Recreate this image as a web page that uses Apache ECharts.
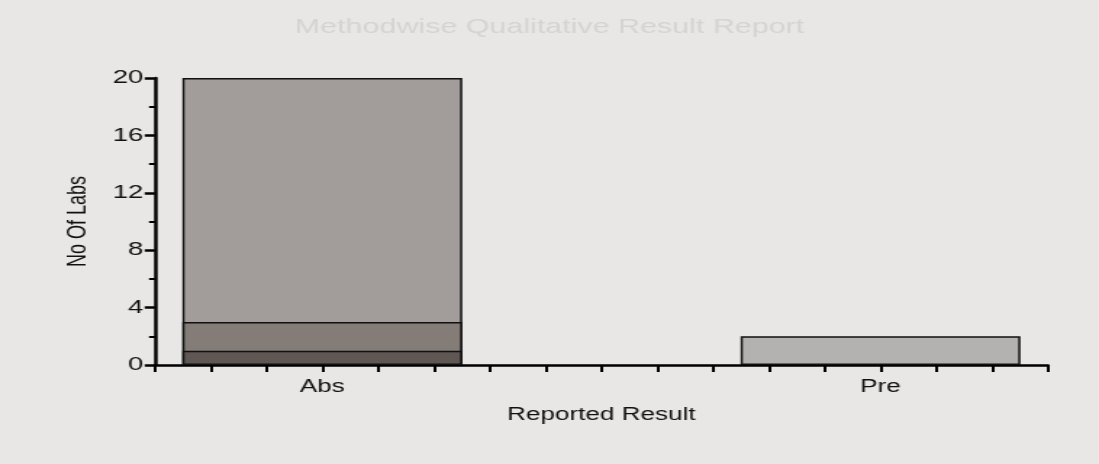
<!DOCTYPE html>
<html>
<head>
<meta charset="utf-8">
<script src="https://cdn.jsdelivr.net/npm/echarts@6/dist/echarts.min.js"></script>
<style>
  html, body { margin: 0; padding: 0; background: #e9e7e6; overflow: hidden; }
  #wrap { width: 1099px; height: 464px; overflow: hidden; }
  #chart { width: 758px; height: 464px; transform: scaleX(1.44987); transform-origin: 0 0; }
</style>
</head>
<body>
<div id="wrap"><div id="chart"></div></div>
<script>
// ---- data ----
const categories = ['Abs', 'Pre'];
const bottomSegment = [1, 0];   // darkest part of the Abs bar
const middleSegment = [2, 0];
const upperSegment  = [17, 0];
const preSegment    = [0, 2];
const yTicks = [0, 4, 8, 12, 16, 20];

// cumulative tops (segments are drawn as overlapping bars, tallest first)
function cum(arrs) {
  return categories.map(function (_, i) {
    return arrs.reduce(function (s, a) { return s + a[i]; }, 0);
  });
}
const topOfBottom = cum([bottomSegment]);
const topOfMiddle = cum([bottomSegment, middleSegment]);
const topOfUpper  = cum([bottomSegment, middleSegment, upperSegment]);

function pts(arr, mask) {
  const out = [];
  arr.forEach(function (v, i) { if (mask[i]) out.push([i, v]); });
  return out;
}

const chart = echarts.init(document.getElementById('chart'), null, { renderer: 'canvas' });
const font = '"Liberation Sans", Arial, sans-serif';

chart.setOption({
  backgroundColor: '#e9e7e6',
  animation: false,
  title: {
    text: 'Methodwise Qualitative Result Report',
    left: 'center',
    top: 12,
    textStyle: { color: '#d6d3d2', fontSize: 21, fontWeight: 'normal', fontFamily: font }
  },
  grid: { left: 106.8, right: 35.2, top: 78, bottom: 99, containLabel: false },
  xAxis: {
    type: 'value',
    min: -0.3,
    max: 1.3,
    interval: 0.1,
    name: 'Reported Result',
    nameLocation: 'middle',
    nameGap: 41,
    nameTextStyle: { color: '#111', fontSize: 18, fontFamily: font },
    axisLine: { show: true, onZero: false, lineStyle: { color: '#000', width: 2.5 } },
    axisTick: { show: true, length: 7, lineStyle: { color: '#000', width: 2 } },
    axisLabel: {
      margin: 13,
      color: '#111',
      fontSize: 18,
      fontFamily: font,
      formatter: function (v) {
        const r = Math.round(v);
        return Math.abs(v - r) < 1e-6 && categories[r] !== undefined ? categories[r] : '';
      }
    },
    splitLine: { show: false }
  },
  yAxis: {
    type: 'value',
    min: yTicks[0],
    max: yTicks[yTicks.length - 1],
    interval: yTicks[1] - yTicks[0],
    name: 'No Of Labs',
    nameLocation: 'middle',
    nameGap: 44,
    nameTextStyle: { color: '#111', fontSize: 18, fontFamily: font },
    axisLine: { show: true, onZero: false, lineStyle: { color: '#000', width: 2.5 } },
    axisTick: { show: true, length: 7, lineStyle: { color: '#000', width: 2.5 } },
    minorTick: { show: true, splitNumber: 2, length: 4, lineStyle: { color: '#000', width: 2 } },
    axisLabel: { margin: 8, color: '#111', fontSize: 19, fontFamily: font },
    splitLine: { show: false }
  },
  series: [
    {
      name: 'Seg 3', type: 'bar', barWidth: 193, barGap: '-100%',
      data: pts(topOfUpper, upperSegment),
      itemStyle: { color: '#a29d9b', borderColor: '#111', borderWidth: 1.5 }
    },
    {
      name: 'Seg 2', type: 'bar', barWidth: 193, barGap: '-100%',
      data: pts(topOfMiddle, middleSegment),
      itemStyle: { color: '#847c77', borderColor: '#111', borderWidth: 1.5 }
    },
    {
      name: 'Seg 1', type: 'bar', barWidth: 193, barGap: '-100%',
      data: pts(topOfBottom, bottomSegment),
      itemStyle: { color: '#5f5753', borderColor: '#111', borderWidth: 1.5 }
    },
    {
      name: 'Pre', type: 'bar', barWidth: 193, barGap: '-100%',
      data: pts(preSegment, preSegment),
      itemStyle: { color: '#b4b1b1', borderColor: '#111', borderWidth: 1.5 }
    }
  ]
});
</script>
</body>
</html>
